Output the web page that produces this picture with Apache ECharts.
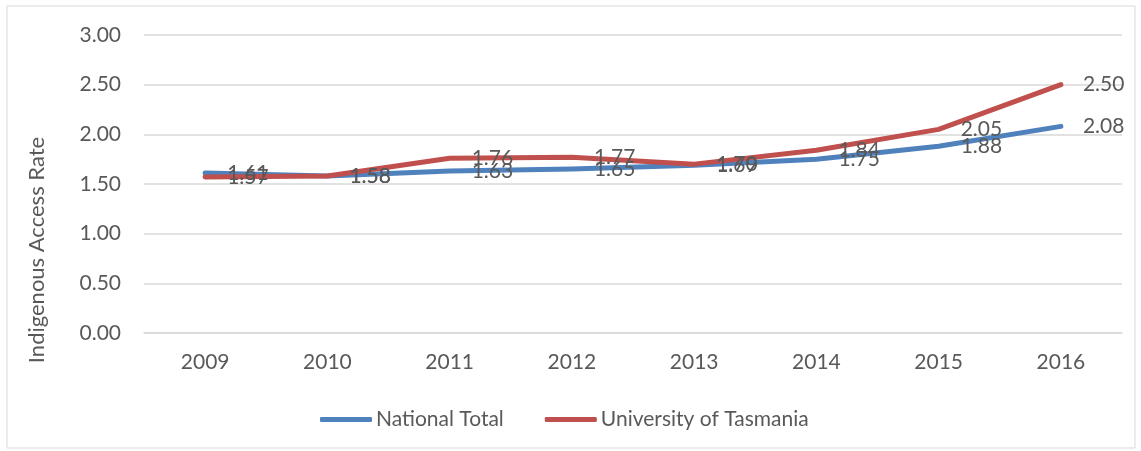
<!DOCTYPE html>
<html>
<head>
<meta charset="utf-8">
<script src="https://cdn.jsdelivr.net/npm/echarts@6/dist/echarts.min.js"></script>
<style>
  html, body { margin: 0; padding: 0; background: #fff; }
  #chart { width: 1141px; height: 451px; }
</style>
</head>
<body>
<div id="chart"></div>
<script>
// 数据
const years = ["2009", "2010", "2011", "2012", "2013", "2014", "2015", "2016"];
const nationalTotal = [1.61, 1.58, 1.63, 1.65, 1.69, 1.75, 1.88, 2.08];
const utas = [1.57, 1.58, 1.76, 1.77, 1.70, 1.84, 2.05, 2.50];

const font = "Lato";
const grey = "#595959";

function lineSeries(name, data, color) {
  return {
    name: name,
    type: "line",
    data: data,
    symbol: "circle",
    symbolSize: 0,
    color: color,
    lineStyle: { width: 5, color: color, cap: "round", join: "round" },
    label: {
      show: true,
      position: "right",
      distance: 22,
      color: grey,
      fontSize: 21,
      fontFamily: font,
      formatter: (p) => p.value.toFixed(2),
    },
  };
}

let myChart = echarts.init(document.getElementById("chart"));
let option = {
  animation: false,
  textStyle: { fontFamily: font },
  graphic: [
    {
      type: "rect",
      shape: { x: 7, y: 6, width: 1128, height: 442 },
      style: { fill: "none", stroke: "#d9d9d9", lineWidth: 1 },
    },
    {
      type: "text",
      x: 37,
      y: 250,
      rotation: Math.PI / 2,
      style: {
        text: "Indigenous Access Rate",
        fill: grey,
        font: "22px Lato",
        align: "center",
        verticalAlign: "middle",
      },
    },
  ],
  grid: { left: 144, right: 19, top: 35, bottom: 118 },
  legend: {
    top: 404,
    left: 315,
    itemWidth: 52,
    itemHeight: 5,
    itemGap: 41,
    icon: "roundRect",
    textStyle: { color: grey, fontSize: 21, fontFamily: font, padding: [0, 0, 0, -1] },
    data: ["National Total", "University of Tasmania"],
  },
  xAxis: {
    type: "category",
    data: years,
    axisLine: { lineStyle: { color: "#d9d9d9", width: 1.5 } },
    axisTick: { show: false },
    axisLabel: { color: grey, fontSize: 21, margin: 19 },
  },
  yAxis: {
    type: "value",
    min: 0,
    max: 3,
    interval: 0.5,
    axisLine: { show: false },
    axisTick: { show: false },
    axisLabel: {
      color: grey,
      fontSize: 21,
      margin: 23,
      formatter: (v) => v.toFixed(2),
    },
    splitLine: { lineStyle: { color: "#d9d9d9", width: 1.5 } },
  },
  series: [
    lineSeries("National Total", nationalTotal, "#4F81BD"),
    lineSeries("University of Tasmania", utas, "#C0504D"),
  ],
};
myChart.setOption(option);
</script>
</body>
</html>
